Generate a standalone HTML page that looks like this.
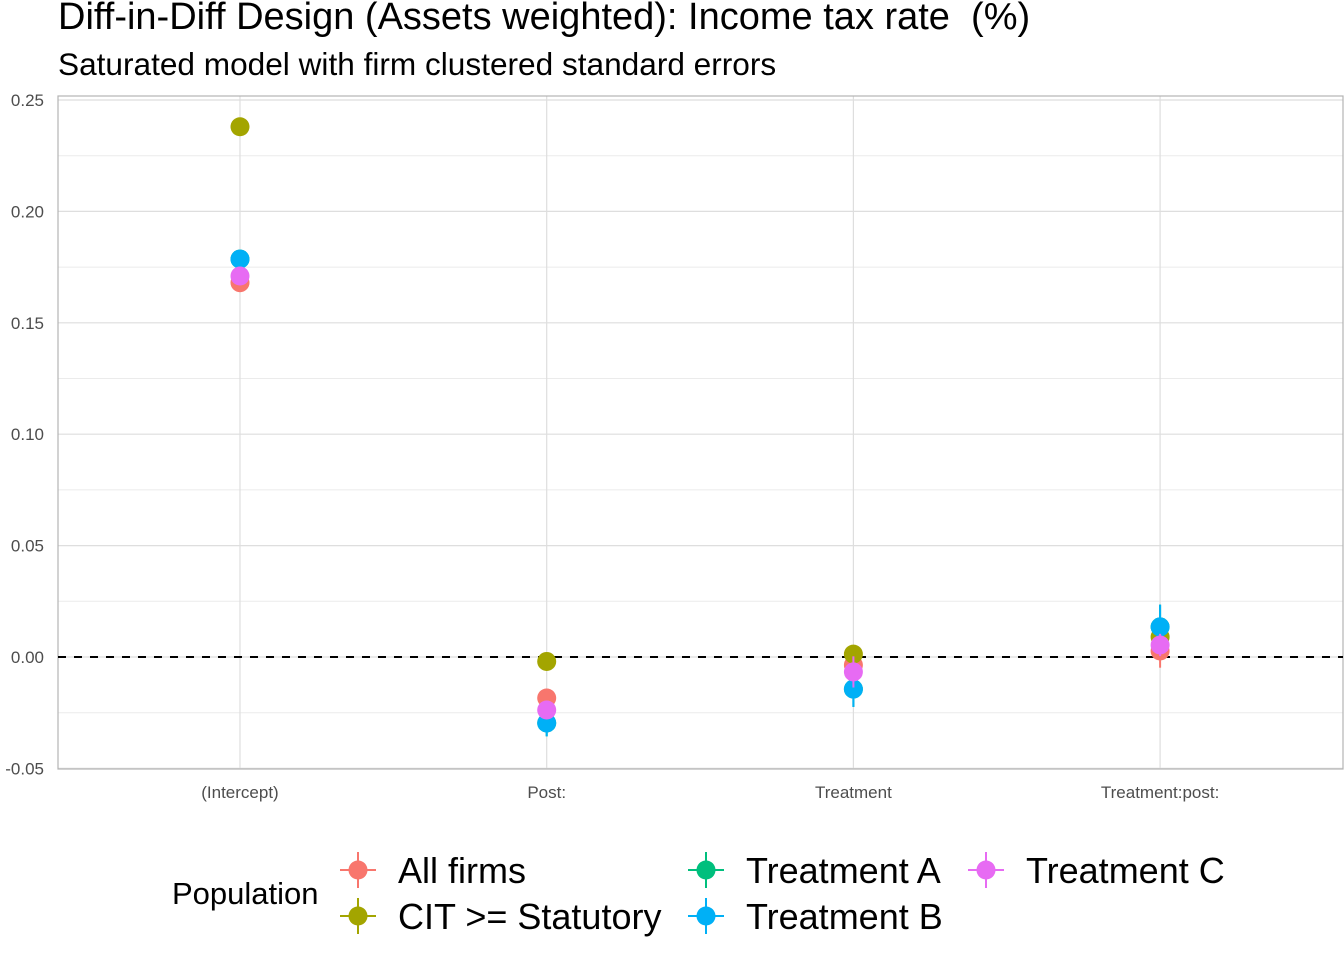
<!DOCTYPE html>
<html><head><meta charset="utf-8"><style>
body{margin:0;background:#fff;font-family:"Liberation Sans",sans-serif;}
svg text{font-family:"Liberation Sans",sans-serif;white-space:pre;}
</style></head><body>
<svg width="1344" height="960" xmlns="http://www.w3.org/2000/svg" id="chart">
<text x="58" y="29" font-size="38" fill="#000" xml:space="preserve">Diff-in-Diff Design (Assets weighted): Income tax rate  (%)</text>
<text x="58" y="75" font-size="31.6" fill="#000">Saturated model with firm clustered standard errors</text>
<g id="grid"></g>
<g id="marks"></g>
<g id="legend"></g>
</svg>
<script>
const categories=["(Intercept)","Post:","Treatment","Treatment:post:"];
const series=["All firms","CIT >= Statutory","Treatment A","Treatment B","Treatment C"];
const colors=["#F8766D","#A3A500","#00BF7D","#00B0F6","#E76BF3"];
const allFirms=[0.168,-0.0184,-0.0036,0.0027];
const allFirmsSE=[0.002,0.003,0.004,0.0075];
const cit=[0.238,-0.002,0.0013,0.009];
const citSE=[0.002,0.002,0.002,0.003];
const treatA=[0.1786,-0.0296,-0.0144,0.0135];
const treatASE=[0.004,0.006,0.008,0.010];
const treatB=[0.1786,-0.0296,-0.0144,0.0135];
const treatBSE=[0.004,0.006,0.008,0.010];
const treatC=[0.171,-0.0238,-0.0067,0.0054];
const treatCSE=[0.002,0.003,0.007,0.005];
const yTicks=[-0.05,0,0.05,0.10,0.15,0.20,0.25];
const yLabels=["-0.05","0.00","0.05","0.10","0.15","0.20","0.25"];
const values=[allFirms,cit,treatA,treatB,treatC];
const ses=[allFirmsSE,citSE,treatASE,treatBSE,treatCSE];
const NS="http://www.w3.org/2000/svg";
const L=58,R=1343,T=96,B=769;
const y=v=>657-v*2228;
const x=i=>240+i*306.7;
function mk(tag,attrs,parent){const e=document.createElementNS(NS,tag);for(const k in attrs)e.setAttribute(k,attrs[k]);parent.appendChild(e);return e;}
const grid=document.getElementById('grid');
for(let i=0;i<yTicks.length-1;i++){const m=(yTicks[i]+yTicks[i+1])/2;
 const l=mk('line',{x1:L,x2:R,y1:y(m),y2:y(m),stroke:'#ebebeb','stroke-width':1},grid);
 
 }
yTicks.forEach((t,i)=>{
 const l=mk('line',{x1:L,x2:R,y1:y(t),y2:y(t),stroke:'#dedede','stroke-width':1.2},grid);
 
 
 const tx=mk('text',{x:44,y:y(t)+6,'font-size':17,fill:'#4d4d4d','text-anchor':'end'},grid);
 tx.textContent=yLabels[i];
 
 });
categories.forEach((c,i)=>{
 const l=mk('line',{x1:x(i),x2:x(i),y1:T,y2:B,stroke:'#dedede','stroke-width':1.2},grid);
 
 
 const tx=mk('text',{x:x(i),y:798,'font-size':17,fill:'#4d4d4d','text-anchor':'middle'},grid);
 tx.textContent=c;
 
 });
const fr=mk('rect',{x:L,y:T,width:R-L,height:B-T,fill:'none',stroke:'#b3b3b3','stroke-width':1.2},grid);


const zl=mk('line',{x1:L,x2:R,y1:y(0),y2:y(0),stroke:'#000','stroke-width':2,'stroke-dasharray':'8,8'},grid);


const marks=document.getElementById('marks');
values.forEach((arr,s)=>{arr.forEach((v,i)=>{
 const e=mk('line',{x1:x(i),x2:x(i),y1:y(v-ses[s][i]),y2:y(v+ses[s][i]),stroke:colors[s],'stroke-width':2},marks);
 
 
 const p=mk('circle',{cx:x(i),cy:y(v),r:9.5,fill:colors[s]},marks);
 
 });});
const lg=document.getElementById('legend');
const pt=mk('text',{x:172,y:904,'font-size':31,fill:'#000'},lg);
pt.textContent='Population';


const pos=[[358,870],[358,916],[706,870],[706,916],[986,870]];
series.forEach((s,i)=>{
 const [cx,cy]=pos[i];
 const g=mk('g',{},lg);
 
 
 mk('line',{x1:cx-18,x2:cx+18,y1:cy,y2:cy,stroke:colors[i],'stroke-width':2},g);
 mk('line',{x1:cx,x2:cx,y1:cy-18,y2:cy+18,stroke:colors[i],'stroke-width':2},g);
 mk('circle',{cx:cx,cy:cy,r:9.5,fill:colors[i]},g);
 const t=mk('text',{x:cx+40,y:cy+13,'font-size':36,fill:'#000'},g);
 t.textContent=s;});
</script>
</body></html>
